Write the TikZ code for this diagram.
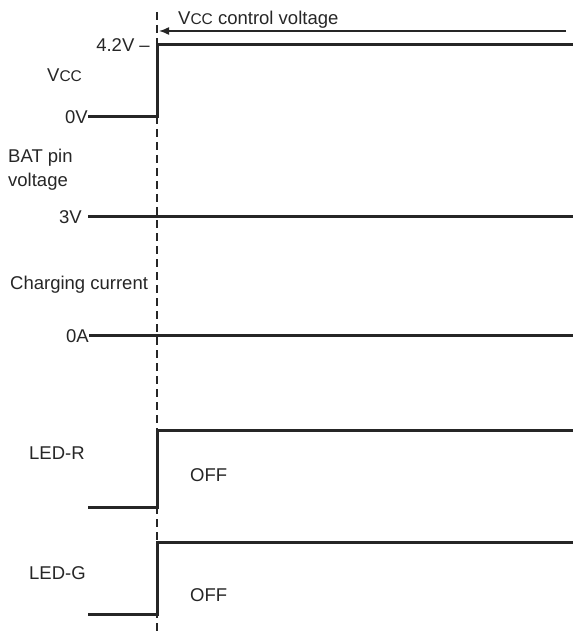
\documentclass[tikz,border=0pt]{standalone}
\usepackage{fontspec}
\setmainfont{Liberation Sans}
\usetikzlibrary{arrows.meta}
\begin{document}
\begin{tikzpicture}[x=1pt,y=-1pt,
  sig/.style={line width=3pt,line join=miter,color=black!85},
  lbl/.style={font=\fontsize{18.5}{22}\selectfont,inner sep=0pt,text=black!85},
  guide/.style={line width=1.5pt,dash pattern=on 8pt off 5pt,color=black!85}]
\useasboundingbox (0,0) rectangle (573,636);
% dashed reference line
\coordinate (dtop) at (157,12);
\coordinate (dbot) at (157,636);
\draw[guide] (dtop) -- (dbot);
% Vcc control voltage arrow
\coordinate (atail) at (566,31);
\coordinate (ahead) at (159,31);
\draw[line width=1.5pt,color=black!85,-{Latex[length=10pt,width=8pt]}] (atail) -- (ahead);
\node[lbl,anchor=base west] (ctl) at (178,25) {V{\fontsize{15.5}{17}\selectfont CC} control voltage};
% Vcc signal
\node[lbl,anchor=base west] (vcc) at (47,82) {V{\fontsize{15.5}{17}\selectfont CC}};
\node[lbl,anchor=base east] (v42) at (150,52) {4.2V –};
\node[lbl,anchor=base east] (v0) at (88,124) {0V};
\draw[sig] (88,117) -- (157,117) -- (157,45) -- (573,45);
% BAT pin voltage
\node[lbl,anchor=base west] (bat1) at (8,163) {BAT pin};
\node[lbl,anchor=base west] (bat2) at (8,186) {voltage};
\node[lbl,anchor=base east] (v3) at (82,223) {3V};
\draw[sig] (88,216) -- (573,216);
% Charging current
\node[lbl,anchor=base west] (cc) at (10,289) {Charging current};
\node[lbl,anchor=base east] (a0) at (89,342) {0A};
\draw[sig] (89,335) -- (573,335);
% LED-R
\node[lbl,anchor=base west] (ledr) at (29,459) {LED-R};
\node[lbl,anchor=base west] (offr) at (190,481) {OFF};
\draw[sig] (88,507) -- (157,507) -- (157,430) -- (573,430);
% LED-G
\node[lbl,anchor=base west] (ledg) at (29,579) {LED-G};
\node[lbl,anchor=base west] (offg) at (190,601) {OFF};
\draw[sig] (88,614) -- (157,614) -- (157,542) -- (573,542);
\end{tikzpicture}
\end{document}
